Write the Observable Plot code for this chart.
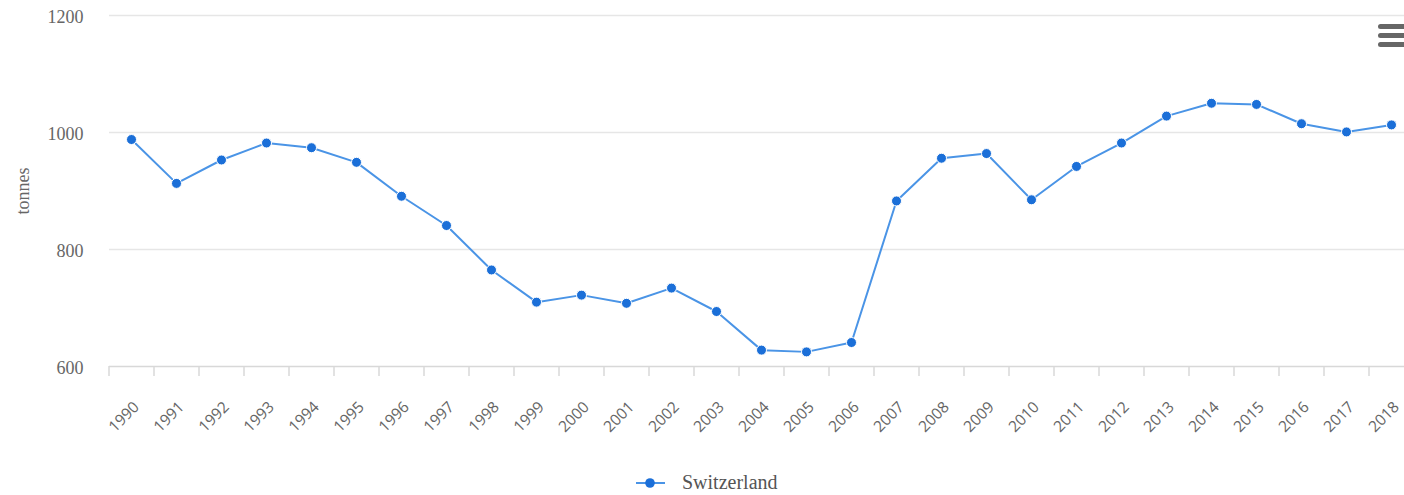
<!DOCTYPE html>
<html>
<head>
<meta charset="utf-8">
<script src="https://cdn.jsdelivr.net/npm/d3@7"></script>
<script src="https://cdn.jsdelivr.net/npm/@observablehq/plot@0.6"></script>
<style>
  html, body { margin: 0; padding: 0; background: #fff; overflow: hidden; }
  #wrap { position: relative; width: 1404px; height: 495px; }
  #legend { position: absolute; left: 634px; top: 471px; display: flex; align-items: center;
            font-family: "Liberation Serif", serif; font-size: 20px; color: #555; }
  .menu { position: absolute; left: 1378px; width: 30px; height: 5px; border-radius: 3px; background: #666; }
</style>
</head>
<body>
<div id="wrap">
  <div id="chart"></div>
  <div id="legend">
    <svg width="34" height="20"><line x1="2" y1="10" x2="31" y2="10" stroke="#4a94e6" stroke-width="2"/><circle cx="16" cy="10" r="4.8" fill="#1b6fd8"/></svg>
    <span style="margin-left:14px">Switzerland</span>
  </div>
  <div class="menu" style="top:24px"></div>
  <div class="menu" style="top:33px"></div>
  <div class="menu" style="top:42px"></div>
</div>
<script>
const years = [1990,1991,1992,1993,1994,1995,1996,1997,1998,1999,2000,2001,2002,2003,2004,2005,2006,2007,2008,2009,2010,2011,2012,2013,2014,2015,2016,2017,2018];
const tonnes = [988,913,953,982,974,949,891,841,765,710,722,708,734,694,628,625,641,883,956,964,885,942,982,1028,1050,1048,1015,1001,1013];
const yTicks = [600,800,1000,1200];
const seriesName = "Switzerland";
const yLabel = "tonnes";

const data = years.map((y, i) => ({year: y, value: tonnes[i]}));
const bounds = years.map(y => y - 0.5).concat([years[years.length - 1] + 0.5]);

const chart = Plot.plot({
  width: 1404,
  height: 440,
  marginLeft: 109,
  marginRight: 0,
  marginTop: 15,
  marginBottom: 74,
  style: {background: "transparent", overflow: "visible"},
  x: {domain: [1989.5, 2018.5], range: [108.5, 108.5 + 29 * 45]},
  y: {domain: [600, 1200]},
  marks: [
    Plot.gridY([800, 1000, 1200], {stroke: "#e6e6e6", strokeOpacity: 1, strokeWidth: 1.5}),
    Plot.ruleY([600], {stroke: "#d8d8d8", strokeWidth: 1.5}),
    Plot.axisX({ticks: bounds, tickSize: 10, tickFormat: () => "", stroke: "#d8d8d8", strokeWidth: 1.5, label: null}),
    Plot.axisX({ticks: years, tickSize: 0, tickRotate: -45, tickPadding: 38, dx: 5,
      tickFormat: d => String(d), fontSize: 15.5, fill: "#666", fontFamily: "'Open Sans', sans-serif", label: null}),
    Plot.axisY({ticks: yTicks, tickSize: 0, tickPadding: 26, dy: 2, fontSize: 18, fill: "#666",
      tickFormat: d => String(d),
      fontFamily: "'Liberation Serif', serif", label: yLabel, labelAnchor: "center", labelArrow: "none", labelOffset: 93}),
    Plot.line(data, {x: "year", y: "value", stroke: "#4a94e6", strokeWidth: 2}),
    Plot.dot(data, {x: "year", y: "value", r: 5, fill: "#1b6fd8", stroke: "#fff", strokeWidth: 1, title: d => seriesName})
  ]
});
document.getElementById("chart").appendChild(chart);
</script>
</body>
</html>
